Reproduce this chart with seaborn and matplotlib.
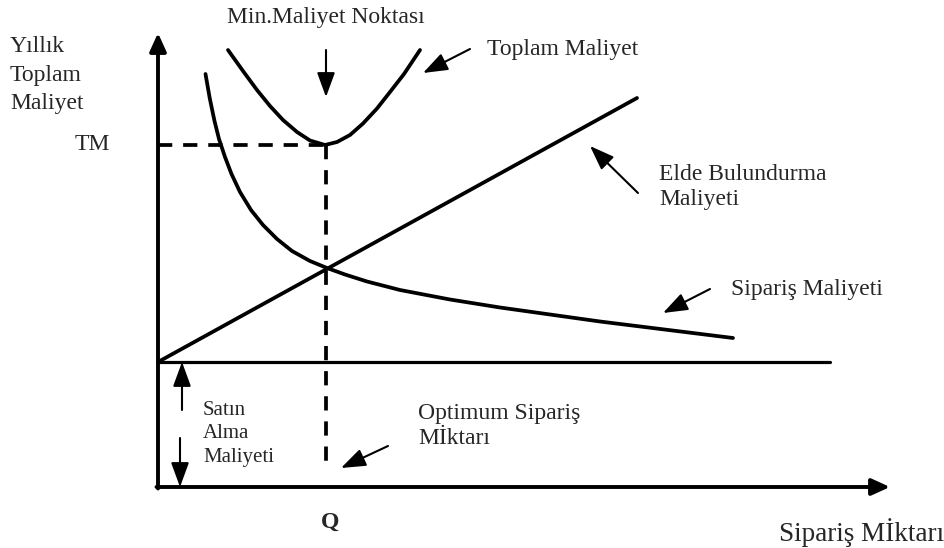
import pandas as pd
import matplotlib.pyplot as plt
import seaborn as sns

# Curve values (arbitrary cost / quantity units)
total_x = [7.0, 8.5, 9.9, 11.2, 12.5, 13.9, 15.2, 16.7, 17.9, 19.2, 20.5, 21.9, 23.2, 24.6, 26.2]
total_y = [43.7, 41.6, 39.7, 38.1, 36.7, 35.5, 34.65, 34.2, 34.5, 35.2, 36.35, 37.85, 39.5, 41.3, 43.7]

order_x = [4.75, 5.17, 5.65, 6.1, 6.7, 7.35, 8.2, 9.3, 10.5, 11.9, 13.4, 15.2, 16.9,
           18.7, 20.9, 24.2, 29.2, 34.2, 44.2, 57.5]
order_y = [41.3, 38.9, 36.6, 34.8, 33.0, 31.3, 29.5, 27.7, 26.2, 24.8, 23.6, 22.6, 21.9,
           21.25, 20.55, 19.7, 18.75, 17.95, 16.55, 14.9]

holding_x = [0.0, 47.9]
holding_y = [12.5, 38.9]

purchase_x = [0.0, 67.2]
purchase_y = [12.5, 12.5]

q_opt = 16.8
tm = 34.2

sns.set_theme(style='white')
plt.rcParams['font.family'] = ['Liberation Serif', 'DejaVu Serif']

fig = plt.figure(figsize=(9.45, 5.48), dpi=100)
ax = fig.add_axes([0, 0, 1, 1])
ax.set_xlim(-15.8, 78.7)
ax.set_ylim(-6.1, 48.7)
ax.axis('off')

curves = pd.concat([
    pd.DataFrame({'x': total_x, 'y': total_y, 'curve': 'total'}),
    pd.DataFrame({'x': order_x, 'y': order_y, 'curve': 'order'}),
    pd.DataFrame({'x': holding_x, 'y': holding_y, 'curve': 'holding'}),
])
for name, grp in curves.groupby('curve'):
    sns.lineplot(data=grp, x='x', y='y', color='black', lw=2.7, ax=ax,
                 estimator=None, sort=False, solid_joinstyle='round')

sns.lineplot(x=purchase_x, y=purchase_y, color='black', lw=2.3, ax=ax, estimator=None)

# dashed guides for TM and Q
ax.plot([0, q_opt], [tm, tm], color='black', lw=2.7, dashes=(3.8, 2.9))
ax.plot([q_opt, q_opt], [tm, 1.9], color='black', lw=2.7, dashes=(3.8, 2.9))

# axes with arrow heads
axis_style = dict(arrowstyle='-|>,head_length=1.1,head_width=0.5', mutation_scale=10,
                  color='black', lw=2.8, shrinkA=0, shrinkB=0)
ax.annotate('', xy=(0, 45.4), xytext=(0, -0.15), arrowprops=axis_style)
ax.annotate('', xy=(73.2, 0), xytext=(-0.15, 0), arrowprops=axis_style)

# pointer arrows
ptr = dict(arrowstyle='-|>,head_length=1.5,head_width=0.55', mutation_scale=10,
           color='black', lw=1.5, shrinkA=0, shrinkB=0)
ax.annotate('', xy=(16.8, 39.0), xytext=(16.8, 43.7), arrowprops=ptr)
ax.annotate('', xy=(26.5, 41.4), xytext=(31.2, 43.8), arrowprops=ptr)
ax.annotate('', xy=(43.2, 34.1), xytext=(48.0, 29.4), arrowprops=ptr)
ax.annotate('', xy=(50.5, 17.4), xytext=(55.2, 19.8), arrowprops=ptr)
ax.annotate('', xy=(2.4, 12.5), xytext=(2.4, 7.7), arrowprops=ptr)
ax.annotate('', xy=(2.2, 0.0), xytext=(2.2, 4.9), arrowprops=ptr)
ax.annotate('', xy=(18.3, 1.9), xytext=(23.0, 4.1), arrowprops=ptr)

fs = 17
ax.text(-14.8, 41.2, 'Yıllık\nToplam\nMaliyet', ha='left', va='center', fontsize=fs, linespacing=1.45)
ax.text(-4.8, 34.2, 'TM', ha='right', va='center', fontsize=fs)
ax.text(16.8, 46.9, 'Min.Maliyet Noktası', ha='center', va='center', fontsize=fs)
ax.text(32.9, 43.7, 'Toplam Maliyet', ha='left', va='center', fontsize=fs)
ax.text(50.1, 30.0, 'Elde Bulundurma\nMaliyeti', ha='left', va='center', fontsize=fs, linespacing=1.3)
ax.text(57.3, 19.7, 'Sipariş Maliyeti', ha='left', va='center', fontsize=fs)
ax.text(4.5, 5.3, 'Satın\nAlma\nMaliyeti', ha='left', va='center', fontsize=15, linespacing=1.33)
ax.text(26.0, 6.1, 'Optimum Sipariş\nMİktarı', ha='left', va='center', fontsize=fs, linespacing=1.3)
ax.text(17.2, -3.5, 'Q', ha='center', va='center', fontsize=fs, fontweight='bold')
ax.text(62.1, -4.6, 'Sipariş Mİktarı', ha='left', va='center', fontsize=19.5)

fig.savefig('out.png', dpi=100)
